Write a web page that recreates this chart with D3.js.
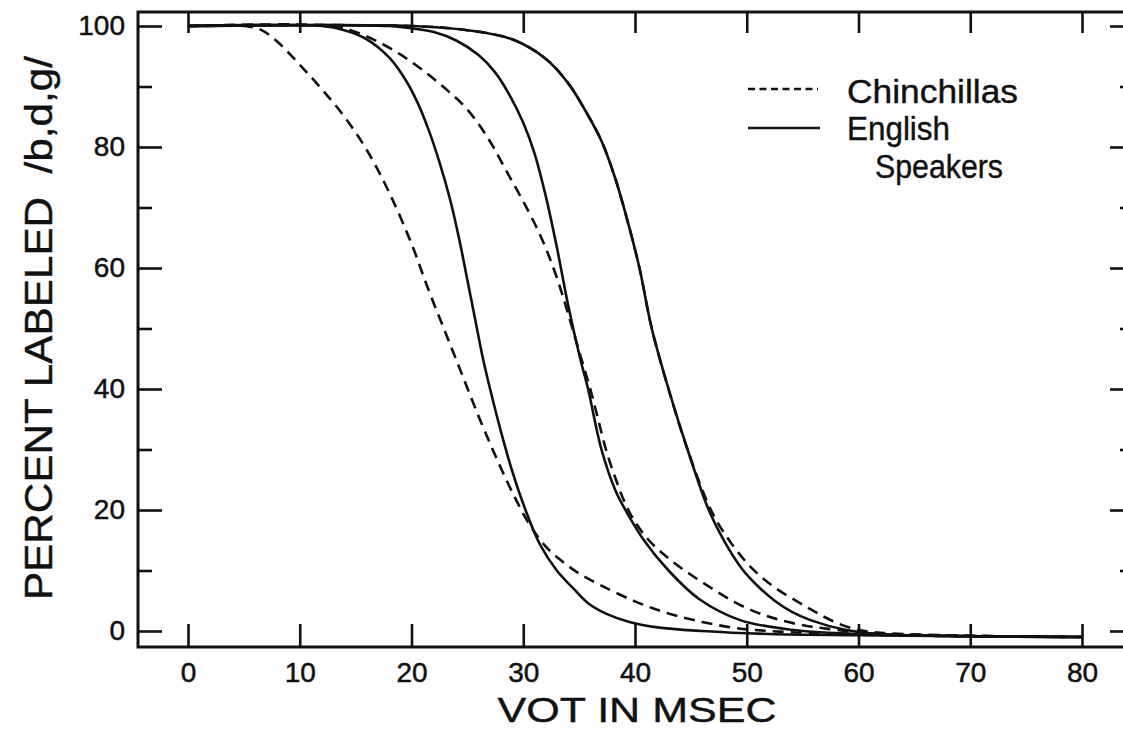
<!DOCTYPE html>
<html>
<head>
<meta charset="utf-8">
<script src="https://cdn.jsdelivr.net/npm/d3@7"></script>
<style>
  html, body { margin: 0; padding: 0; background: #fff; }
  svg { display: block; }
  text { font-family: "Liberation Sans", Arial, sans-serif; fill: #111; }
</style>
</head>
<body>
<svg id="chart" width="1123" height="732"></svg>
<script>
// VOT (ms) ticks and percent ticks
const xTicks = [0, 10, 20, 30, 40, 50, 60, 70, 80];
const yMajorTicks = [0, 20, 40, 60, 80, 100];
const yMinorTicks = [10, 30, 50, 70, 90];

// Identification functions: [VOT ms, percent labeled voiced]
const chinchillaLabial = [
  [0,100],[5,100],[6.5,99.4],[8,97.4],[10,93.6],[12,89.5],[14,85],[16,79.5],[18,72.5],
  [20,64],[21.5,56.5],[23,49.5],[24.5,42.5],[26,35.5],[27.5,29],[29,23],[30.5,17.8],[32,14],
  [33.5,11.5],[35,9.5],[37,7.5],[40,4.9],[43,2.9],[46,1.5],[49,0.5],[52,0],[60,-0.6],[80,-1]
];
const englishLabial = [
  [0,100],[12,100],[14,99.3],[16,97.8],[18,94.8],[19.5,91],[20.5,87.5],[21.5,83],[22.5,77.5],
  [23.5,71],[24.3,64.5],[25,58],[25.7,51.5],[26.4,45],[27.1,39.5],[28,33],[29,26.5],[30.2,20],
  [31.5,14.3],[33,10],[34.5,7],[35.8,4.6],[37.5,2.8],[39.5,1.5],[42,0.6],[46,0],[52,-0.5],
  [60,-0.7],[80,-1]
];
const chinchillaAlveolar = [
  [0,100],[13,100],[15,99],[17,97.4],[19,95.3],[21,92.7],[23,89.7],[25,86.2],[27,81],
  [28.5,76],[30,71],[31.5,65.5],[32.7,60],[33.6,55],[34.4,50],[35.2,45],[36,40],[36.7,35],
  [37.4,30],[38.3,25],[39.4,20],[41,15.5],[43,12],[45,9.3],[47,6.9],[49,4.7],[51,3],
  [53,1.8],[55.5,0.8],[58,0.2],[61,-0.4],[80,-1]
];
const englishAlveolar = [
  [0,100],[18,100],[20,99.6],[22,99],[24,97.6],[26,95.2],[27.5,92.3],[28.8,88.5],[30,84],
  [31,79],[32,72],[33,63.5],[34,54],[35.1,45],[35.8,40],[37,30],[38.3,23],[39.3,19.5],
  [40.8,15],[43,10],[45.8,5.2],[49.4,1.8],[54,0.2],[60,-0.5],[80,-1]
];
const chinchillaVelar = [
  [0,100],[20,100],[25,99.3],[29,97.8],[32,94.6],[34,90.6],[35.5,86.2],[37,81],[38.2,75],
  [39.3,68],[40.4,60],[41.5,50],[43,40],[44.7,30],[46.8,20],[48.5,14.8],[50.5,10.3],[52.5,7.2],
  [54.5,4.9],[56,3.3],[57.4,1.9],[59.5,0.4],[62,-0.3],[80,-1]
];
const englishVelar = [
  [0,100],[20,100],[25,99.3],[29,97.8],[32,94.6],[34,90.6],[35.5,86.2],[37,81],[38.2,75],
  [39.3,68],[40.4,60],[41.5,50],[43,40],[44.7,30],[46.6,20],[48,14.8],[49.6,10.2],[51,7.4],
  [52.5,5],[54,3.2],[55.7,1.8],[58.8,0.2],[62,-0.5],[80,-1]
];

const legendLabels = ["Chinchillas", "English", "Speakers"];
const xTitle = "VOT IN MSEC";
const yTitle = "PERCENT LABELED  /b,d,g/";

const svg = d3.select("#chart");
const frame = { left: 138, top: 12, right: 1134, bottom: 647 };

const x = d3.scaleLinear().domain([0, 80]).range([188, 1082]);
const y = d3.scaleLinear().domain([0, 100]).range([631, 26]);

// Frame around the plotting area
svg.append("rect")
  .attr("x", frame.left).attr("y", frame.top)
  .attr("width", frame.right - frame.left).attr("height", frame.bottom - frame.top)
  .attr("fill", "none").attr("stroke", "#111").attr("stroke-width", 3);

function styleAxis(g) {
  g.select(".domain").remove();
  g.selectAll(".tick line").attr("stroke", "#111").attr("stroke-width", 2.6);
  g.selectAll(".tick text")
    .attr("fill", "#111").attr("stroke", "#111").attr("stroke-width", 0.5)
    .style("font-family", "'Liberation Sans', Arial, sans-serif")
    .style("font-size", "28px");
}

// Bottom axis, ticks pointing inward
svg.append("g").attr("transform", `translate(0,${frame.bottom})`)
  .call(d3.axisBottom(x).tickValues(xTicks).tickSizeInner(-23).tickSizeOuter(0).tickPadding(15))
  .call(styleAxis);

// Top axis, ticks only
svg.append("g").attr("transform", `translate(0,${frame.top})`)
  .call(d3.axisTop(x).tickValues(xTicks).tickSizeInner(-21).tickSizeOuter(0).tickFormat(""))
  .call(styleAxis);

// Left axis with labels and minor ticks
svg.append("g").attr("transform", `translate(${frame.left},0)`)
  .call(d3.axisLeft(y).tickValues(yMajorTicks).tickSizeInner(-24).tickSizeOuter(0).tickPadding(13))
  .call(styleAxis);
svg.append("g").attr("transform", `translate(${frame.left},0)`)
  .call(d3.axisLeft(y).tickValues(yMinorTicks).tickSizeInner(-14).tickSizeOuter(0).tickFormat(""))
  .call(styleAxis);

// Right axis, ticks only
svg.append("g").attr("transform", `translate(${frame.right},0)`)
  .call(d3.axisRight(y).tickValues(yMajorTicks).tickSizeInner(-24).tickSizeOuter(0).tickFormat(""))
  .call(styleAxis);
svg.append("g").attr("transform", `translate(${frame.right},0)`)
  .call(d3.axisRight(y).tickValues(yMinorTicks).tickSizeInner(-14).tickSizeOuter(0).tickFormat(""))
  .call(styleAxis);

// Curves
const line = d3.line().x(d => x(d[0])).y(d => y(d[1])).curve(d3.curveCatmullRom.alpha(0.5));
const series = [
  { data: englishLabial, dashed: false },
  { data: englishAlveolar, dashed: false },
  { data: englishVelar, dashed: false },
  { data: chinchillaLabial, dashed: true },
  { data: chinchillaAlveolar, dashed: true },
  { data: chinchillaVelar, dashed: true }
];
svg.append("g").selectAll("path").data(series).join("path")
  .attr("d", d => line(d.data))
  .attr("fill", "none")
  .attr("stroke", "#111")
  .attr("stroke-width", 2.6)
  .attr("stroke-linejoin", "round")
  .attr("stroke-dasharray", d => d.dashed ? "11,7" : null);

// Legend
const legend = svg.append("g");
legend.append("line").attr("x1", 748).attr("x2", 818).attr("y1", 89).attr("y2", 89)
  .attr("stroke", "#111").attr("stroke-width", 2.6).attr("stroke-dasharray", "7,4.5");
legend.append("line").attr("x1", 748).attr("x2", 820).attr("y1", 128).attr("y2", 128)
  .attr("stroke", "#111").attr("stroke-width", 2.6);
const legendPos = [[847, 103, 171], [847, 140, 103], [875, 178, 128]];
legend.selectAll("text").data(legendLabels).join("text")
  .attr("x", (d, i) => legendPos[i][0])
  .attr("y", (d, i) => legendPos[i][1])
  .attr("textLength", (d, i) => legendPos[i][2])
  .attr("lengthAdjust", "spacingAndGlyphs")
  .attr("stroke", "#111").attr("stroke-width", 0.4)
  .style("font-size", "33px")
  .text(d => d);

// Axis titles
svg.append("text")
  .attr("x", 637).attr("y", 722)
  .attr("text-anchor", "middle")
  .attr("textLength", 279).attr("lengthAdjust", "spacingAndGlyphs")
  .attr("stroke", "#111").attr("stroke-width", 0.4)
  .style("font-size", "35px")
  .text(xTitle);

svg.append("text")
  .attr("transform", "translate(52,328) rotate(-90)")
  .attr("text-anchor", "middle")
  .attr("textLength", 544).attr("lengthAdjust", "spacingAndGlyphs")
  .attr("stroke", "#111").attr("stroke-width", 0.4)
  .style("font-size", "38px")
  .style("white-space", "pre")
  .text(yTitle);
</script>
</body>
</html>
